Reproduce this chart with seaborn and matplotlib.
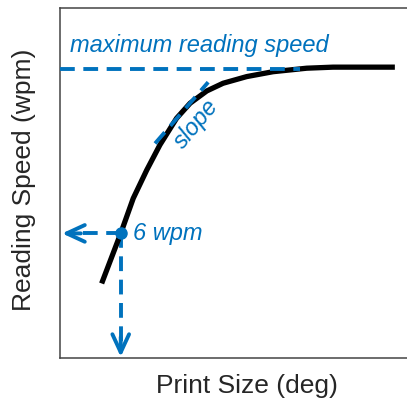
import matplotlib
matplotlib.use("Agg")
import matplotlib.pyplot as plt
import seaborn as sns
import pandas as pd

# Curve (data units, axes 0..10)
curve_x = [1.20, 1.75, 2.11, 2.50, 2.88, 3.36, 3.75, 4.23, 4.70, 5.38, 6.14, 7.11, 7.87, 9.65]
curve_y = [2.13, 3.56, 4.56, 5.37, 6.09, 6.85, 7.28, 7.63, 7.85, 8.04, 8.18, 8.28, 8.31, 8.31]

max_speed = 8.27
max_line_x = [0.0, 6.92]
tangent_x = [2.74, 4.27]
tangent_y = [6.13, 7.88]
point_x = 1.75
point_y = 3.56

label_max = "maximum reading speed"
label_slope = "slope"
label_point = "6 wpm"
xlabel = "Print Size (deg)"
ylabel = "Reading Speed (wpm)"

BLUE = "#0072BD"

sns.set_style("white")
plt.rcParams['font.family'] = ['Liberation Sans', 'DejaVu Sans']

fig = plt.figure(figsize=(4.07, 4.01), dpi=100)
ax = fig.add_axes([60/407, 43/401, 347/407, 350/401])
ax.set_xlim(0, 10)
ax.set_ylim(0, 10)

df = pd.DataFrame({"x": curve_x, "y": curve_y})
sns.lineplot(data=df, x="x", y="y", ax=ax, color="black", linewidth=3.8,
             sort=False, estimator=None, solid_capstyle="butt", zorder=4)

dash = (3.8, 2.2)
LW = 2.8
ax.plot(max_line_x, [max_speed, max_speed], color=BLUE, lw=LW, dashes=dash, zorder=5)
ax.plot(tangent_x, tangent_y, color=BLUE, lw=LW, dashes=dash, zorder=5)
ax.plot([point_x, 0.45], [point_y, point_y], color=BLUE, lw=LW, dashes=dash, zorder=3)
ax.plot([point_x, point_x], [point_y, 0.45], color=BLUE, lw=LW, dashes=dash, zorder=3)

ax.annotate("", xy=(0.06, point_y), xytext=(0.6, point_y),
            arrowprops=dict(arrowstyle="->,head_length=1.3,head_width=0.6",
                            color=BLUE, lw=LW, shrinkA=0, shrinkB=0,
                            mutation_scale=10), annotation_clip=False)
ax.annotate("", xy=(point_x, 0.03), xytext=(point_x, 0.6),
            arrowprops=dict(arrowstyle="->,head_length=1.3,head_width=0.6",
                            color=BLUE, lw=LW, shrinkA=0, shrinkB=0,
                            mutation_scale=10), annotation_clip=False)

ax.plot([point_x], [point_y], marker="o", ms=8, color=BLUE, zorder=6)

ax.text(0.29, 8.73, label_max, color=BLUE, fontsize=17, style="italic",
        ha="left", va="baseline")
ax.text(2.1, point_y, label_point, color=BLUE, fontsize=17, style="italic",
        ha="left", va="center")
ax.text(3.92, 6.69, label_slope, color=BLUE, fontsize=17, style="italic",
        ha="center", va="center", rotation=50)

ax.set_xticks([])
ax.set_yticks([])
ax.set_xlabel(xlabel, fontsize=19)
ax.set_ylabel(ylabel, fontsize=19)
ax.xaxis.set_label_coords(0.54, -0.045, transform=ax.transAxes)
ax.xaxis.label.set_va("top")
ax.yaxis.set_label_coords(-0.07, 0.51, transform=ax.transAxes)

for s in ["left", "bottom", "top"]:
    ax.spines[s].set_color("#444444")
    ax.spines[s].set_linewidth(1.1)
ax.spines["right"].set_visible(False)

fig.savefig("out.png", dpi=100)
